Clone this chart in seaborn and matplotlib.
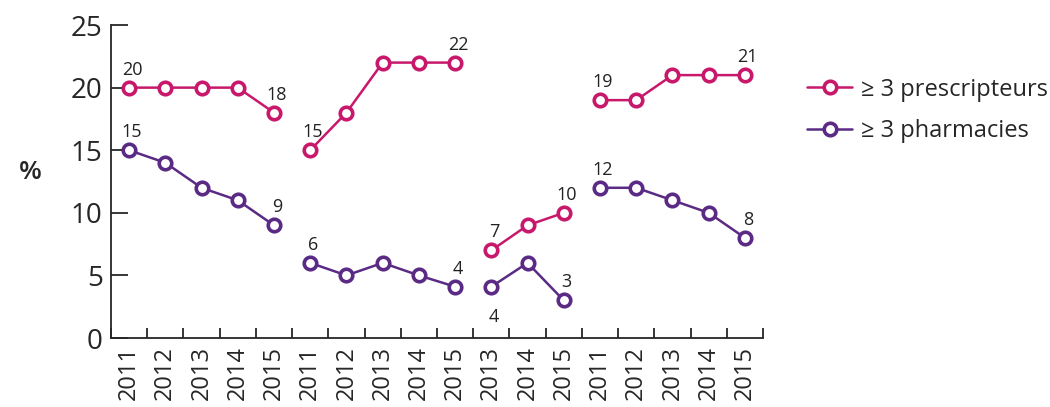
import numpy as np
import pandas as pd
import matplotlib.pyplot as plt
from matplotlib.lines import Line2D
import seaborn as sns

# chart values
years = [2011, 2012, 2013, 2014, 2015,
         2011, 2012, 2013, 2014, 2015,
         2013, 2014, 2015,
         2011, 2012, 2013, 2014, 2015]
groups = [0] * 5 + [1] * 5 + [2] * 3 + [3] * 5
prescripteurs = [20, 20, 20, 20, 18,
                 15, 18, 22, 22, 22,
                 7, 9, 10,
                 19, 19, 21, 21, 21]
pharmacies = [15, 14, 12, 11, 9,
              6, 5, 6, 5, 4.1,
              4.1, 6, 3,
              12, 12, 11, 10, 8]
series_names = ["\u2265 3 prescripteurs", "\u2265 3 pharmacies"]
colors = ["#c8186b", "#5a2a85"]

pos = np.arange(len(years))
df = pd.concat([
    pd.DataFrame({"pos": pos, "year": years, "group": groups,
                  "value": prescripteurs, "series": series_names[0]}),
    pd.DataFrame({"pos": pos, "year": years, "group": groups,
                  "value": pharmacies, "series": series_names[1]}),
])

sns.set_style("ticks")
plt.rcParams["font.family"] = ["Open Sans", "DejaVu Sans"]

fig = plt.figure(figsize=(10.5, 4.07), dpi=100)
ax = fig.add_axes([0.1057, 0.1695, 0.621, 0.769])

sns.lineplot(data=df, x="pos", y="value", hue="series", units="group",
             estimator=None, palette=dict(zip(series_names, colors)),
             legend=False, ax=ax, linewidth=1.8, marker="o",
             markersize=9, markerfacecolor="white", markeredgewidth=2.6)
# make marker edges follow the line colour
for line in ax.get_lines():
    line.set_markeredgecolor(line.get_color())

# value labels at first and last point of each block
for name, vals in zip(series_names, [prescripteurs, pharmacies]):
    for g in sorted(set(groups)):
        idx = [i for i, gg in enumerate(groups) if gg == g]
        for i in (idx[0], idx[-1]):
            below = (name == series_names[1] and g == 2 and i == idx[0])
            ax.annotate(f"{round(vals[i])}", (pos[i], vals[i]),
                        xytext=(2, -22 if below else 13), textcoords="offset points",
                        ha="center", va="center", fontsize=13, color="#222222")

ax.set_xlim(-0.5, len(years) - 0.5)
ax.set_ylim(0, 25)
ax.set_yticks([0, 5, 10, 15, 20, 25])
ax.set_xticks(pos)
ax.set_xticklabels([str(y) for y in years], rotation=90, fontsize=17)
ax.set_xticks(np.arange(len(years) + 1) - 0.5, minor=True)
ax.tick_params(axis="x", which="major", length=0, pad=6)
ax.tick_params(axis="x", which="minor", direction="in", length=7, width=1.3)
ax.tick_params(axis="y", direction="in", length=12, width=1.3, labelsize=20, pad=6)
ax.set_xlabel("")
ax.set_ylabel("%", rotation=0, fontsize=19, fontweight="semibold", va="center", ha="center")
ax.yaxis.set_label_coords(-0.124, 0.53)
sns.despine(ax=ax)
for s in ["left", "bottom"]:
    ax.spines[s].set_linewidth(1.3)

handles = [Line2D([], [], color=c, linewidth=1.8, marker="o", markersize=9,
                  markerfacecolor="white", markeredgecolor=c, markeredgewidth=2.6)
           for c in colors]
ax.legend(handles, series_names, loc="upper left", bbox_to_anchor=(1.035, 0.9),
          frameon=False, fontsize=17, handlelength=1.9, handletextpad=0.4,
          labelspacing=0.75)

fig.savefig("out.png", dpi=100)
